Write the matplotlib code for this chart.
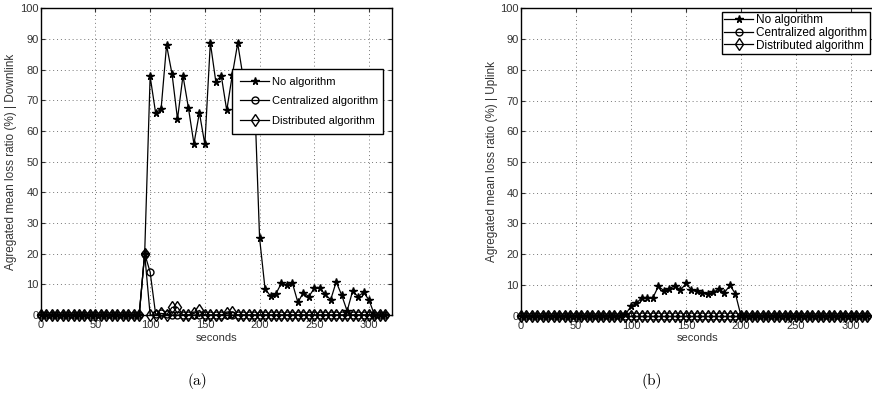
import matplotlib
matplotlib.use('Agg')
import matplotlib.pyplot as plt
import numpy as np

plt.rcParams['font.family'] = ['Liberation Sans', 'DejaVu Sans']

# time axis, one sample every 5 s
seconds = list(range(0, 320, 5))

# Downlink values (%)
down_none = [0] * 19 + [20, 77.8, 65.9, 67.1, 88, 78.6, 63.9, 78, 67.5, 55.8, 66,
                       55.6, 88.8, 76.1, 78, 66.7, 78.1, 88.6, 77.4, 78, 75.4,
                       25.1, 8.5, 6.2, 7, 10.4, 9.8, 10.4, 4.1, 7.3, 6, 8.7, 8.7,
                       6.7, 5, 10.8, 6.5, 1.3, 7.8, 6, 7.4, 4.9, 0, 0, 0]
down_central = [0] * 19 + [20, 14, 0.3, 0.5, 0.3] + [0] * 40
down_distrib = [0] * 19 + [20, 0, 0, 0.5, 0, 2.5, 2.5, 0, 0, 0.5, 1.5, 0, 0, 0, 0,
                           0.5, 1] + [0] * 28

# Uplink values (%)
up_none = [0] * 19 + [0.5, 3, 4.1, 5.9, 5.7, 5.9, 9.6, 8.1, 8.8, 9.8, 8.3, 10.5,
                      8.4, 8, 7.4, 7.1, 7.6, 8.7, 7.5, 9.9, 7.1] + [0] * 24
up_central = [0] * 64
up_distrib = [0] * 64

labels = ['No algorithm', 'Centralized algorithm', 'Distributed algorithm']
W, H = 872, 401


def style_axes(ax, ylabel):
    ax.set_xlim(0, 321)
    ax.set_ylim(0, 100)
    ax.set_xticks(range(0, 301, 50))
    ax.set_yticks(range(0, 101, 10))
    ax.grid(True, linestyle=(0, (1, 3)), color='#777777', linewidth=0.7)
    ax.tick_params(direction='in', top=True, right=True, labelsize=8,
                   length=3, pad=1.5, colors='#333333')
    ax.tick_params(axis='x', pad=3.5)
    for s in ax.spines.values():
        s.set_linewidth(1.0)
    ax.set_xlabel('seconds', fontsize=8, labelpad=2, color='#333333')
    ax.set_ylabel(ylabel, fontsize=8.5, labelpad=2, color='#333333')


def draw(ax, ys):
    ax.plot(seconds, ys[0], '-', color='black', lw=0.9, marker='*',
            ms=5.5, mfc='black', mec='black', label=labels[0], zorder=3,
            clip_on=False)
    ax.plot(seconds, ys[1], '-', color='black', lw=0.9, marker='o',
            ms=5, mfc='none', mec='black', mew=1.0, label=labels[1], zorder=4,
            clip_on=False)
    ax.plot(seconds, ys[2], '-', color='black', lw=0.9, marker='d',
            ms=6, mfc='none', mec='black', mew=1.0, label=labels[2], zorder=5,
            clip_on=False)


fig = plt.figure(figsize=(W / 100, H / 100), dpi=100)

ax1 = fig.add_axes([40.7 / W, 1 - 315 / H, 351.3 / W, 306.7 / H])
draw(ax1, [down_none, down_central, down_distrib])
style_axes(ax1, 'Agregated mean loss ratio (%) | Downlink')
leg1 = ax1.legend(loc='upper left', bbox_to_anchor=(0.53, 0.59, 0.46, 0.23),
                  mode='expand', fontsize=8, handlelength=2.6,
                  handletextpad=0.3, labelspacing=0.85, borderpad=0.7,
                  fancybox=False, framealpha=1, edgecolor='black')
leg1.get_frame().set_linewidth(1.0)
leg1.set_zorder(10)

ax2 = fig.add_axes([521 / W, 1 - 315.7 / H, 353 / W, 307.4 / H])
draw(ax2, [up_none, up_central, up_distrib])
style_axes(ax2, 'Agregated mean loss ratio (%) | Uplink')
leg2 = ax2.legend(loc='upper right', bbox_to_anchor=(0.988, 0.988),
                  fontsize=8.5, handlelength=2.4, handletextpad=0.3,
                  labelspacing=0.05, borderpad=0.2, borderaxespad=0,
                  fancybox=False, framealpha=1, edgecolor='black')
leg2.get_frame().set_linewidth(1.0)
leg2.set_zorder(10)

fig.text(197 / W, 1 - 381 / H, '(a)', ha='center', va='center',
         fontname='cmr10', fontsize=11)
fig.text(652 / W, 1 - 381 / H, '(b)', ha='center', va='center',
         fontname='cmr10', fontsize=11)

fig.savefig('out.png', dpi=100)
